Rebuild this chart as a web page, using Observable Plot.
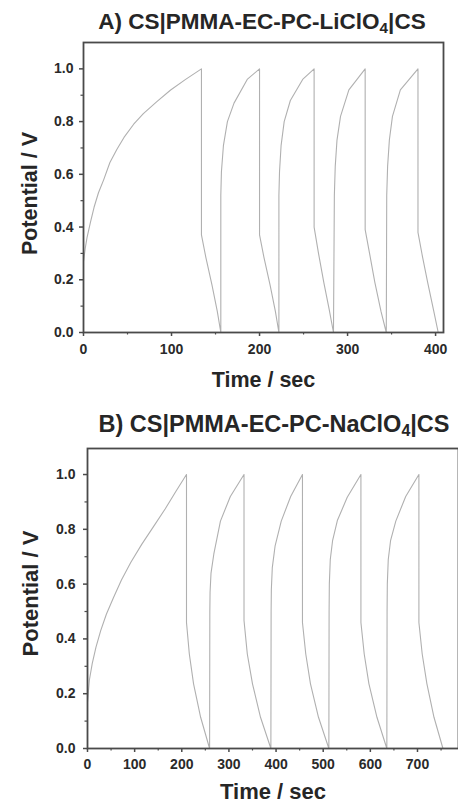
<!DOCTYPE html>
<html><head><meta charset="utf-8">
<script src="https://cdn.jsdelivr.net/npm/d3@7"></script>
<script src="https://cdn.jsdelivr.net/npm/@observablehq/plot@0.6"></script>
<style>
body{margin:0;background:#fff;overflow:hidden;font-family:"Liberation Sans",Arial,sans-serif;}
#wrap{position:relative;width:458px;height:806px;overflow:hidden;}
.title{position:absolute;font-weight:bold;line-height:22px;color:#262626;white-space:nowrap;transform:translateX(-50%);}
.title sub{font-size:0.68em;vertical-align:-0.25em;line-height:0;}
.panel{position:absolute;left:0;}
</style></head><body>
<div id="wrap"></div>
<script>
// ---- data ----
const titleA = ["A) CS|PMMA-EC-PC-LiClO", "4", "|CS"];
const titleB = ["B) CS|PMMA-EC-PC-NaClO", "4", "|CS"];
const xLabel = "Time / sec";
const yLabel = "Potential / V";

const timeA = [0,2,4,8,12,17,23,30,38,46,57,68,83,99,116,134,
  134,139,146,152,156,
  156,156.7,159,163.5,171,186,200,
  200,205,212,218,222,
  222,222.7,224.5,228,235,249,262,
  262,267,273,279,284,
  285,286,288,292,301.5,320,
  320,325,331,338,344,
  344.5,345.5,347.5,351,360,380,
  380,385,391,398,403];
const potentialA = [0.27,0.32,0.36,0.42,0.475,0.53,0.58,0.645,0.695,0.74,0.79,0.83,0.875,0.92,0.96,1.0,
  0.37,0.285,0.18,0.08,0.0,
  0.52,0.61,0.71,0.80,0.87,0.96,1.0,
  0.37,0.285,0.18,0.08,0.0,
  0.52,0.61,0.71,0.80,0.88,0.96,1.0,
  0.40,0.30,0.19,0.09,0.0,
  0.52,0.63,0.73,0.82,0.92,1.0,
  0.39,0.30,0.19,0.08,0.0,
  0.52,0.63,0.73,0.82,0.92,1.0,
  0.38,0.29,0.19,0.08,0.0];

const timeB = [0,4,10,18,28,40,55,72,92,115,140,165,188,210,
  210,216,225,240,259,
  259.5,260,262,268,282,303,332,
  332,339,350,367,389,
  389.5,390,392,398,411,431,456,
  456,463,473,490,512,
  512.5,513,515,520,530,551,580,
  580,587,597,614,635,
  635.5,636,638,643,654,675,703,
  703,710,720,735,754];
const potentialB = [0.17,0.25,0.31,0.37,0.43,0.49,0.55,0.615,0.68,0.745,0.81,0.875,0.94,1.0,
  0.46,0.345,0.236,0.114,0.0,
  0.50,0.57,0.64,0.71,0.83,0.92,1.0,
  0.467,0.345,0.236,0.114,0.0,
  0.50,0.58,0.66,0.74,0.83,0.92,1.0,
  0.46,0.345,0.236,0.114,0.0,
  0.50,0.60,0.69,0.76,0.832,0.917,1.0,
  0.46,0.345,0.236,0.114,0.0,
  0.50,0.60,0.69,0.76,0.83,0.92,1.0,
  0.46,0.345,0.236,0.114,0.0];

const xTicksA = [0,100,200,300,400];
const xMinorA = [50,150,250,350];
const xTicksB = [0,100,200,300,400,500,600,700];
const xMinorB = [50,150,250,350,450,550,650,750];
const yTicks = [0,0.2,0.4,0.6,0.8,1.0];
const yMinor = [0.1,0.3,0.5,0.7,0.9];

// ---- drawing ----
const font = "Liberation Sans, Arial, Helvetica, sans-serif";
function panel(time, pot, cfg) {
  const data = time.map((t, i) => ({t, v: pot[i]}));
  return Plot.plot({
    width: cfg.width, height: cfg.height,
    marginTop: cfg.mt, marginBottom: cfg.mb, marginLeft: cfg.ml, marginRight: cfg.mr,
    x: {domain: cfg.xDomain},
    y: {domain: cfg.yDomain},
    style: {fontFamily: font, fontSize: "14px", fontWeight: "bold", color: "#2a2a2a", background: "transparent", overflow: "visible"},
    marks: [
      Plot.line(data, {x: "t", y: "v", stroke: "#b0b0b0", strokeWidth: 1.1}),
      Plot.frame({stroke: "#4a4a4a", strokeWidth: 1.8}),
      Plot.axisX({ticks: cfg.xTicks, tickSize: 4, tickPadding: cfg.xPad, label: null, tickFormat: d => String(d), stroke: "#4a4a4a", strokeWidth: 1.5}),
      Plot.axisX({ticks: cfg.xMinor, tickSize: 2.5, label: null, tickFormat: () => "", stroke: "#4a4a4a", strokeWidth: 1.2}),
      Plot.axisY({ticks: yTicks, tickSize: 4, tickPadding: cfg.yPad, label: null, tickFormat: d => d.toFixed(1), stroke: "#4a4a4a", strokeWidth: 1.5}),
      Plot.axisY({ticks: yMinor, tickSize: 2.5, label: null, tickFormat: () => "", stroke: "#4a4a4a", strokeWidth: 1.2}),
      Plot.text([xLabel], {text: d => d, frameAnchor: "bottom", textAnchor: "middle", dy: cfg.xLabelDy, fontSize: cfg.labelSize, fontWeight: "bold", fill: "#262626"}),
      Plot.text([yLabel], {text: d => d, frameAnchor: "left", textAnchor: "middle", lineAnchor: "middle", dx: cfg.yLabelDx, dy: cfg.yLabelDy, rotate: -90, fontSize: cfg.labelSize, fontWeight: "bold", fill: "#262626"})
    ]
  });
}

const wrap = document.getElementById("wrap");
function addTitle(parts, left, top, size) {
  const d = document.createElement("div");
  d.className = "title";
  d.style.left = left + "px";
  d.style.top = top + "px";
  d.style.fontSize = size + "px";
  d.append(parts[0]);
  const s = document.createElement("sub"); s.textContent = parts[1]; d.append(s);
  d.append(parts[2]);
  wrap.append(d);
}

const pA = panel(timeA, potentialA, {width: 458, height: 400, mt: 42, mb: 68, ml: 83, mr: 15,
  xDomain: [0, 409], yDomain: [0, 1.1], xTicks: xTicksA, xMinor: xMinorA, xPad: 8, yPad: 6,
  xLabelDy: 54.5, yLabelDx: -53, yLabelDy: 6, labelSize: 21.5});
pA.classList.add("panel"); pA.style.top = "0px";
wrap.append(pA);

const pB = panel(timeB, potentialB, {width: 458, height: 406, mt: 48, mb: 58, ml: 87, mr: 0,
  xDomain: [0, 787], yDomain: [0, 1.095], xTicks: xTicksB, xMinor: xMinorB, xPad: 7, yPad: 8,
  xLabelDy: 50, yLabelDx: -57, yLabelDy: -5, labelSize: 22});
pB.classList.add("panel"); pB.style.top = "400px";
wrap.append(pB);

addTitle(titleA, 262, 11, 22.5);
addTitle(titleB, 274, 413, 23.5);
</script>
</body></html>
